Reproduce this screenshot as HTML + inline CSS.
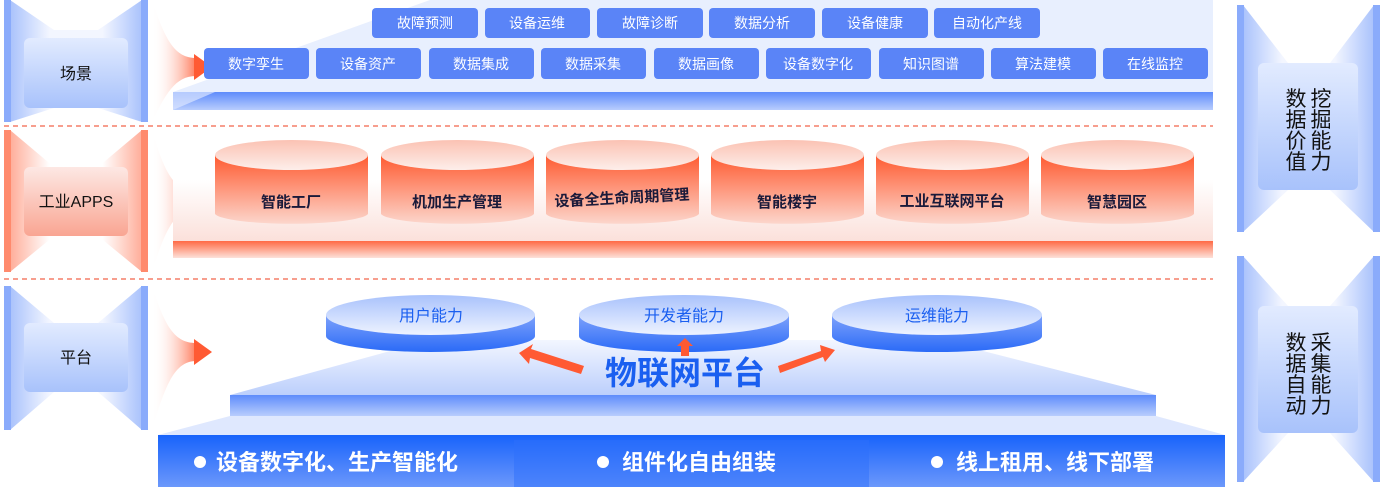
<!DOCTYPE html>
<html><head><meta charset="utf-8"><style>
html,body{margin:0;padding:0;background:#fff;}
body{width:1384px;height:493px;overflow:hidden;font-family:"Liberation Sans","Noto Sans CJK SC",sans-serif;}
</style></head><body>
<svg width="1384" height="493" viewBox="0 0 1384 493" xmlns="http://www.w3.org/2000/svg" font-family="Liberation Sans, Noto Sans CJK SC, sans-serif">
<defs>
<linearGradient id="bfr" x1="0" y1="0" x2="1" y2="0"><stop offset="0" stop-color="#a9c2fc"/><stop offset=".3" stop-color="#f3f6ff"/><stop offset=".7" stop-color="#f3f6ff"/><stop offset="1" stop-color="#a9c2fc"/></linearGradient>
<linearGradient id="rfr" x1="0" y1="0" x2="1" y2="0"><stop offset="0" stop-color="#ffad99"/><stop offset=".3" stop-color="#fff"/><stop offset=".7" stop-color="#fff"/><stop offset="1" stop-color="#ffad99"/></linearGradient>
<linearGradient id="bin" x1="0" y1="0" x2="0" y2="1"><stop offset="0" stop-color="#e2ebff"/><stop offset="1" stop-color="#a8c2fb"/></linearGradient>
<linearGradient id="rin" x1="0" y1="0" x2="0" y2="1"><stop offset="0" stop-color="#fde8e4"/><stop offset="1" stop-color="#f9a592"/></linearGradient>
<linearGradient id="bbar" x1="0" y1="0" x2="0" y2="1"><stop offset="0" stop-color="#5e8cfb"/><stop offset="1" stop-color="#b8cdfd"/></linearGradient>
<linearGradient id="rbar" x1="0" y1="0" x2="0" y2="1"><stop offset="0" stop-color="#ff6a45"/><stop offset="1" stop-color="#fde2da"/></linearGradient>
<linearGradient id="rtrap" x1="0" y1="0" x2="0" y2="1"><stop offset="0" stop-color="#fff"/><stop offset="1" stop-color="#fbe0da"/></linearGradient>
<linearGradient id="fanr" x1="0" y1="0" x2="1" y2="0"><stop offset="0" stop-color="#fff" stop-opacity="0"/><stop offset="1" stop-color="#ff5a33"/></linearGradient>
<linearGradient id="cylT" x1="0" y1="0" x2="0" y2="1"><stop offset="0" stop-color="#fbc2b3"/><stop offset="1" stop-color="#fdeeea"/></linearGradient>
<linearGradient id="cylB" x1="0" y1="0" x2="0" y2="1"><stop offset="0" stop-color="#ff5a30"/><stop offset="1" stop-color="#fcd6cc"/></linearGradient>
<linearGradient id="dT" x1="0" y1="0" x2="0" y2="1"><stop offset="0" stop-color="#a9c2fc"/><stop offset="1" stop-color="#eef3ff"/></linearGradient>
<linearGradient id="dB" x1="0" y1="0" x2="0" y2="1"><stop offset="0" stop-color="#7ea2fb"/><stop offset="1" stop-color="#2a6af7"/></linearGradient>
<linearGradient id="band" x1="0" y1="0" x2="0" y2="1"><stop offset="0" stop-color="#1863fb"/><stop offset="1" stop-color="#6c98fb"/></linearGradient>
<linearGradient id="plat" x1="0" y1="0" x2="0" y2="1"><stop offset="0" stop-color="#f3f6ff"/><stop offset="1" stop-color="#bccffc"/></linearGradient>
</defs>

<g>
<polygon points="10,0 54,30 98,30 142,0 142,122 98,108 54,108 10,122" fill="url(#bfr)"/>
<rect x="4" y="0" width="7" height="122" fill="#8aabfb"/><rect x="141" y="0" width="7" height="122" fill="#8aabfb"/>
<rect x="24" y="38" width="104" height="70" rx="6" fill="url(#bin)"/>
<text x="76" y="79" font-size="16" text-anchor="middle" fill="#111">场景</text>

<polygon points="10,130 54,167 98,167 142,130 142,272 98,236 54,236 10,272" fill="url(#rfr)"/>
<rect x="4" y="130" width="7" height="142" fill="#ff8a6d"/><rect x="141" y="130" width="7" height="142" fill="#ff8a6d"/>
<rect x="24" y="167" width="104" height="69" rx="6" fill="url(#rin)"/>
<text x="76" y="207" font-size="16" text-anchor="middle" fill="#111">工业APPS</text>

<polygon points="10,286 54,323 98,323 142,286 142,430 98,392 54,392 10,430" fill="url(#bfr)"/>
<rect x="4" y="286" width="7" height="144" fill="#8aabfb"/><rect x="141" y="286" width="7" height="144" fill="#8aabfb"/>
<rect x="24" y="323" width="104" height="69" rx="6" fill="url(#bin)"/>
<text x="76" y="363" font-size="16" text-anchor="middle" fill="#111">平台</text>
</g>

<g>
<polygon points="1243,5 1288,63 1330,63 1374,5 1374,232 1330,190 1288,190 1243,232" fill="url(#bfr)"/>
<rect x="1237" y="5" width="7" height="227" fill="#8aabfb"/><rect x="1373" y="5" width="7" height="227" fill="#8aabfb"/>
<rect x="1258" y="63" width="100" height="127" rx="6" fill="url(#bin)"/>
<g font-size="21" fill="#111" text-anchor="middle">
<text x="1296" y="106">数</text><text x="1296" y="127">据</text><text x="1296" y="148">价</text><text x="1296" y="169">值</text>
<text x="1321" y="106">挖</text><text x="1321" y="127">掘</text><text x="1321" y="148">能</text><text x="1321" y="169">力</text>
</g>
<polygon points="1243,256 1288,306 1330,306 1374,256 1374,482 1330,433 1288,433 1243,482" fill="url(#bfr)"/>
<rect x="1237" y="256" width="7" height="226" fill="#8aabfb"/><rect x="1373" y="256" width="7" height="226" fill="#8aabfb"/>
<rect x="1258" y="306" width="100" height="127" rx="6" fill="url(#bin)"/>
<g font-size="21" fill="#111" text-anchor="middle">
<text x="1296" y="350">数</text><text x="1296" y="371">据</text><text x="1296" y="392">自</text><text x="1296" y="413">动</text>
<text x="1321" y="350">采</text><text x="1321" y="371">集</text><text x="1321" y="392">能</text><text x="1321" y="413">力</text>
</g>
</g>

<line x1="4" y1="126" x2="1213" y2="126" stroke="#f2654a" stroke-width="1.3" stroke-dasharray="5,4"/>
<line x1="4" y1="279" x2="1213" y2="279" stroke="#f2654a" stroke-width="1.3" stroke-dasharray="5,4"/>

<g>
<path d="M152,0 C165,40 175,58 196,58 L196,76 C175,76 165,95 152,122 Z" fill="url(#fanr)" opacity=".8"/>
<polygon points="194,54 212,67 194,80" fill="#ff5a33"/>
<path d="M152,130 C165,175 175,191 196,191 L196,209 C175,209 165,230 152,272 Z" fill="url(#fanr)" opacity=".8"/>
<polygon points="194,187 212,200 194,213" fill="#ff5a33"/>
<path d="M152,286 C165,327 175,343 196,343 L196,361 C175,361 165,385 152,430 Z" fill="url(#fanr)" opacity=".8"/>
<polygon points="194,339 212,352 194,365" fill="#ff5a33"/>
</g>

<polygon points="173,92 430,0 1213,0 1213,92" fill="#e8effe"/>
<polygon points="173,92 1213,92 1213,110 173,110" fill="url(#bbar)"/>
<polygon points="173,110 215,92 173,92" fill="#dbe6ff" opacity=".7"/>
<g fill="#5a84f7">
<rect x="372" y="8" width="106" height="30" rx="4"/><rect x="485" y="8" width="105" height="30" rx="4"/><rect x="597" y="8" width="106" height="30" rx="4"/><rect x="709" y="8" width="106" height="30" rx="4"/><rect x="822" y="8" width="106" height="30" rx="4"/><rect x="934" y="8" width="106" height="30" rx="4"/>
<rect x="204" y="48" width="105" height="31" rx="4"/><rect x="316" y="48" width="105" height="31" rx="4"/><rect x="429" y="48" width="105" height="31" rx="4"/><rect x="541" y="48" width="105" height="31" rx="4"/><rect x="654" y="48" width="105" height="31" rx="4"/><rect x="766" y="48" width="105" height="31" rx="4"/><rect x="879" y="48" width="105" height="31" rx="4"/><rect x="991" y="48" width="105" height="31" rx="4"/><rect x="1103" y="48" width="105" height="31" rx="4"/>
</g>
<g fill="#fff" font-size="14" text-anchor="middle">
<text x="425" y="28">故障预测</text><text x="537" y="28">设备运维</text><text x="650" y="28">故障诊断</text><text x="762" y="28">数据分析</text><text x="875" y="28">设备健康</text><text x="987" y="28">自动化产线</text>
<text x="256" y="69">数字孪生</text><text x="368" y="69">设备资产</text><text x="481" y="69">数据集成</text><text x="593" y="69">数据采集</text><text x="706" y="69">数据画像</text><text x="818" y="69">设备数字化</text><text x="931" y="69">知识图谱</text><text x="1043" y="69">算法建模</text><text x="1155" y="69">在线监控</text>
</g>

<rect x="173" y="180" width="1040" height="62" fill="url(#rtrap)"/>
<rect x="173" y="241" width="1040" height="17" fill="url(#rbar)"/>
<g>
<g transform="translate(215,0)"><path d="M0,155 L0,214 A77,11 0 0 0 153,214 L153,155 Z" fill="url(#cylB)"/><ellipse cx="76.5" cy="155" rx="76.5" ry="15" fill="url(#cylT)"/></g>
<g transform="translate(381,0)"><path d="M0,155 L0,214 A77,11 0 0 0 153,214 L153,155 Z" fill="url(#cylB)"/><ellipse cx="76.5" cy="155" rx="76.5" ry="15" fill="url(#cylT)"/></g>
<g transform="translate(546,0)"><path d="M0,155 L0,214 A77,11 0 0 0 153,214 L153,155 Z" fill="url(#cylB)"/><ellipse cx="76.5" cy="155" rx="76.5" ry="15" fill="url(#cylT)"/></g>
<g transform="translate(711,0)"><path d="M0,155 L0,214 A77,11 0 0 0 153,214 L153,155 Z" fill="url(#cylB)"/><ellipse cx="76.5" cy="155" rx="76.5" ry="15" fill="url(#cylT)"/></g>
<g transform="translate(876,0)"><path d="M0,155 L0,214 A77,11 0 0 0 153,214 L153,155 Z" fill="url(#cylB)"/><ellipse cx="76.5" cy="155" rx="76.5" ry="15" fill="url(#cylT)"/></g>
<g transform="translate(1041,0)"><path d="M0,155 L0,214 A77,11 0 0 0 153,214 L153,155 Z" fill="url(#cylB)"/><ellipse cx="76.5" cy="155" rx="76.5" ry="15" fill="url(#cylT)"/></g>
</g>
<g fill="#1a1a3a" font-size="15" font-weight="bold" text-anchor="middle">
<text x="291" y="207">智能工厂</text><text x="457" y="207">机加生产管理</text><text x="622" y="203" transform="rotate(-3 622 200)">设备全生命周期管理</text><text x="787" y="207">智能楼宇</text><text x="952" y="206">工业互联网平台</text><text x="1117" y="207">智慧园区</text>
</g>

<polygon points="158,435 230,416 1156,416 1225,435" fill="#dfe8fe"/>
<polygon points="230,395 430,340 940,340 1156,395" fill="url(#plat)"/>
<rect x="230" y="395" width="926" height="21" fill="url(#bbar)"/>
<g>
<path d="M326,315 L326,336 A104.5,16 0 0 0 535,336 L535,315 Z" fill="url(#dB)"/><ellipse cx="430.5" cy="315" rx="104.5" ry="20" fill="url(#dT)"/>
<path d="M579,315 L579,336 A105,16 0 0 0 789,336 L789,315 Z" fill="url(#dB)"/><ellipse cx="684" cy="315" rx="105" ry="20" fill="url(#dT)"/>
<path d="M832,315 L832,336 A105,16 0 0 0 1042,336 L1042,315 Z" fill="url(#dB)"/><ellipse cx="937" cy="315" rx="105" ry="20" fill="url(#dT)"/>
</g>
<g fill="#1a5ff0" font-size="16" text-anchor="middle">
<text x="431" y="321">用户能力</text><text x="684" y="321">开发者能力</text><text x="937" y="321">运维能力</text>
</g>
<text x="685" y="384" font-size="32" font-weight="bold" fill="#1a5ff0" text-anchor="middle">物联网平台</text>
<g fill="#ff5a33">
<polygon points="584,366 531,349 533,344 519,353 529,364 530,358 581,374"/>
<polygon points="681,356 681,346 677,346 685,338 693,346 689,346 689,356"/>
<polygon points="780,373 823,357 825,362 835,350 820,345 821,351 778,366"/>
</g>
<rect x="158" y="435" width="1067" height="52" fill="url(#band)"/>
<rect x="514" y="440" width="355" height="47" fill="#2e6ffb" opacity=".5"/>
<g fill="#fff" font-size="22" font-weight="bold">
<circle cx="200" cy="462" r="6"/><text x="216" y="470">设备数字化、生产智能化</text>
<circle cx="603" cy="462" r="6"/><text x="622" y="470">组件化自由组装</text>
<circle cx="937" cy="462" r="6"/><text x="956" y="470">线上租用、线下部署</text>
</g>
</svg>
</body></html>
